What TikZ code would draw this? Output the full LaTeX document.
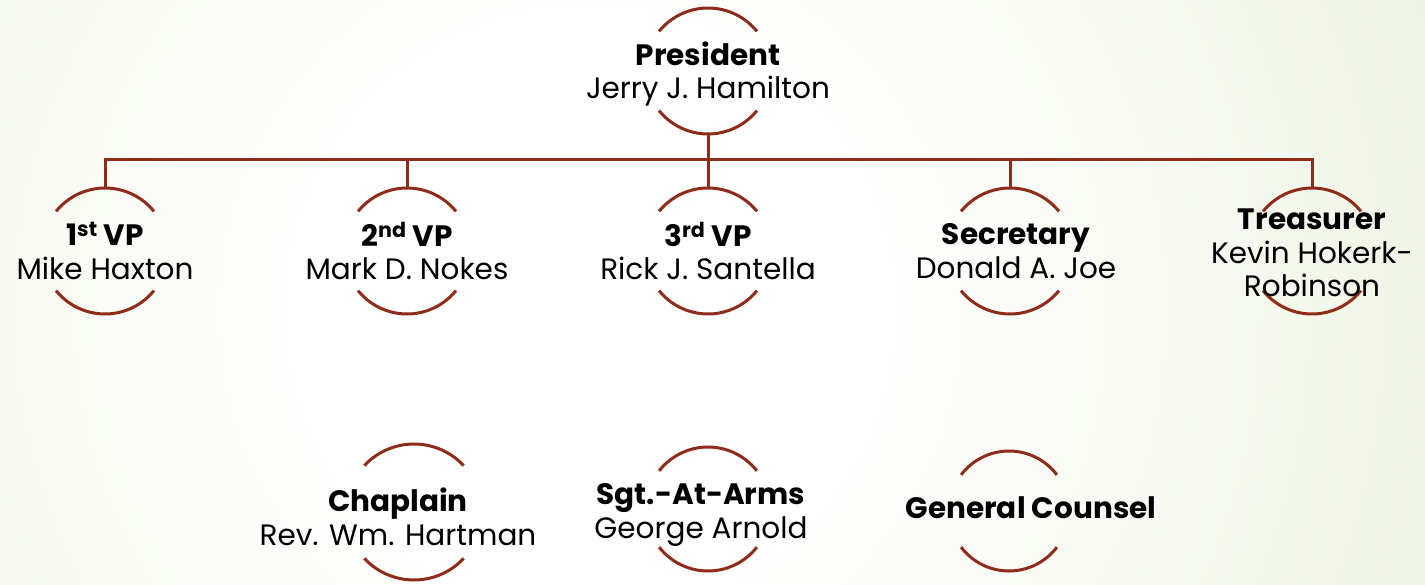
\documentclass[tikz,border=0pt]{standalone}
\usepackage{fontspec}
\setmainfont{Poppins}
\definecolor{ringc}{HTML}{8E2B19}
\definecolor{bgG}{HTML}{D7E2BA}
\pgfdeclareradialshading{bgshade}{\pgfpoint{0bp}{0bp}}{color(0bp)=(white); color(7bp)=(white); color(45bp)=(bgG); color(50bp)=(bgG)}
\tikzset{
  ring/.style={circle, draw=none, inner sep=0pt, outer sep=0pt, minimum size=#1},
  arcline/.style={draw=ringc, line width=3pt},
  conn/.style={draw=ringc, line width=3pt},
  txt/.style={align=center, font=\fontsize{29.5}{33.5}\selectfont, text=black, inner sep=0pt},
}
\newcommand\halo[3]{% node, angle, radius
  \draw[arcline] (#1.#2) arc[start angle=#2, end angle=180-#2, radius=#3];
  \draw[arcline] (#1.\number\numexpr180+#2\relax) arc[start angle=180+#2, end angle=360-#2, radius=#3];
}
\begin{document}
\begin{tikzpicture}[x=1pt,y=-1pt]
\useasboundingbox (0,0) rectangle (1425,584);
\begin{scope}
\clip (0,0) rectangle (1425,584);
\shade[shading=bgshade] (590,310) circle[radius=1000pt];
\end{scope}
% nodes
\node[ring=126pt] (pres) at (708,71) {};
\node[ring=126pt] (vp1) at (105,251) {};
\node[ring=126pt] (vp2) at (407,251) {};
\node[ring=126pt] (vp3) at (708,251) {};
\node[ring=126pt] (sec) at (1010,251) {};
\node[ring=126pt] (tre) at (1312,251) {};
\node[ring=136pt] (chap) at (414,512) {};
\node[ring=124pt] (sgt) at (708,509) {};
\node[ring=120pt] (gc) at (1009,511) {};
\halo{pres}{39}{63pt}
\halo{vp1}{39}{63pt}
\halo{vp2}{39}{63pt}
\halo{vp3}{39}{63pt}
\halo{sec}{39}{63pt}
\halo{tre}{39}{63pt}
\halo{chap}{43}{68pt}
\halo{sgt}{38}{62pt}
\halo{gc}{37}{60pt}
% connectors
\draw[conn] (pres.south) -- ++(0,25) coordinate (bus);
\draw[conn] (vp1.north) |- (tre.north |- bus) -- (tre.north);
\draw[conn] (vp2.north) -- (vp2.north |- bus);
\draw[conn] (vp3.north) -- (vp3.north |- bus);
\draw[conn] (sec.north) -- (sec.north |- bus);
% texts
\node[txt] (presT) at (708,74) {\textbf{President}\\Jerry J. Hamilton};
\node[txt] (vp1T) at (105,251) {\textbf{1\textsuperscript{st} VP}\\Mike Haxton};
\node[txt] (vp2T) at (407,251) {\textbf{2\textsuperscript{nd} VP}\\Mark D. Nokes};
\node[txt] (vp3T) at (708,251) {\textbf{3\textsuperscript{rd} VP}\\Rick J. Santella};
\node[txt] (secT) at (1016,251) {\textbf{Secretary}\\Donald A. Joe};
\node[txt] (treT) at (1312,253) {\textbf{Treasurer}\\Kevin Hokerk-\\Robinson};
\node[txt] (chapT) at (398,517) {\textbf{Chaplain}\\Rev. Wm. Hartman};
\node[txt] (sgtT) at (701,515) {\textbf{Sgt.-At-Arms}\\George Arnold};
\node[txt] (gcT) at (1031,508) {\textbf{General Counsel}};
\end{tikzpicture}
\end{document}
